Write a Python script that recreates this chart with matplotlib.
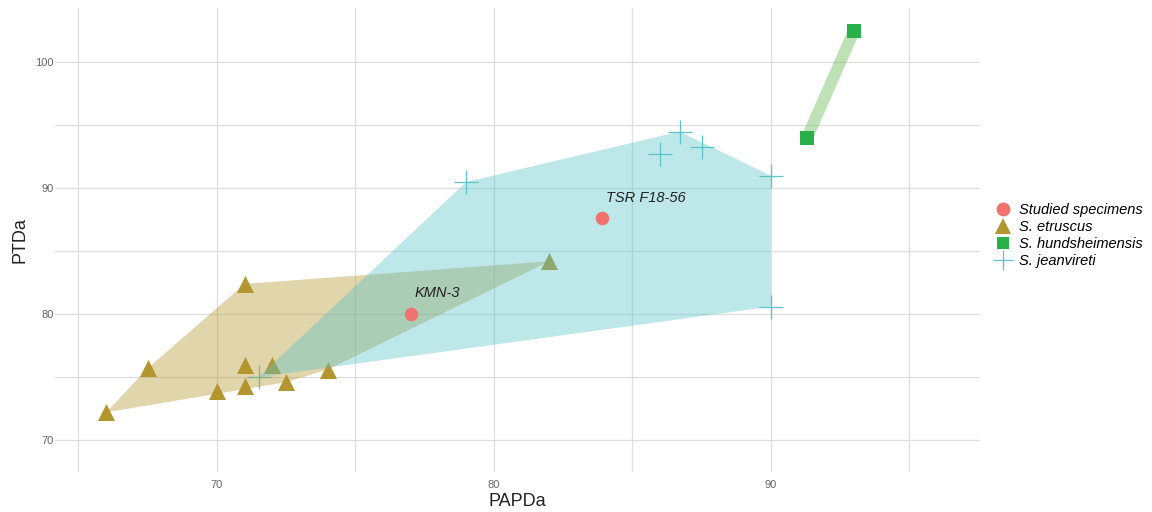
import numpy as np
import matplotlib
matplotlib.use('Agg')
from matplotlib import pyplot as plt

plt.rcParams['font.family'] = ['Liberation Sans', 'DejaVu Sans']

# measurements per group (PAPDa, PTDa)
studied_x = [77.0, 83.9]
studied_y = [80.0, 87.6]
studied_labels = ['KMN-3', 'TSR F18-56']

etruscus_x = [66.0, 67.5, 71.0, 70.0, 71.0, 71.0, 72.0, 72.5, 74.0, 82.0]
etruscus_y = [72.2, 75.7, 82.4, 73.9, 74.3, 76.0, 76.0, 74.6, 75.6, 84.2]

hundsheim_x = [91.3, 93.0]
hundsheim_y = [94.0, 102.5]

jeanvireti_x = [79.0, 86.7, 86.0, 87.5, 90.0, 90.0, 71.5]
jeanvireti_y = [90.5, 94.5, 92.7, 93.3, 91.0, 80.6, 75.0]

c_studied = '#F0736E'
c_etruscus = '#B3962F'
c_hundsheim = '#2AB04A'
c_jeanvireti = '#5CC3C8'


# convex hull (monotone chain) around the points of one group
def hull(xs, ys):
    pts = sorted(set(zip(xs, ys)))
    if len(pts) < 3:
        return pts

    def cross(o, a, b):
        return (a[0]-o[0])*(b[1]-o[1]) - (a[1]-o[1])*(b[0]-o[0])

    lower, upper = [], []
    for p in pts:
        while len(lower) >= 2 and cross(lower[-2], lower[-1], p) <= 0:
            lower.pop()
        lower.append(p)
    for p in reversed(pts):
        while len(upper) >= 2 and cross(upper[-2], upper[-1], p) <= 0:
            upper.pop()
        upper.append(p)
    return lower[:-1] + upper[:-1]


fig = plt.figure(figsize=(11.52, 5.12), dpi=100)
ax = fig.add_axes([0.0477, 0.078, 0.803, 0.906])

# points first, hull areas laid over them
ax.scatter(etruscus_x, etruscus_y, marker='^', s=150, color=c_etruscus, linewidths=0, zorder=2)
ax.scatter(jeanvireti_x, jeanvireti_y, marker='+', s=300, color=c_jeanvireti, linewidths=0.9, zorder=2)
ax.scatter(hundsheim_x, hundsheim_y, marker='s', s=110, color=c_hundsheim, linewidths=0, zorder=4)
ax.scatter(studied_x, studied_y, marker='o', s=95, color=c_studied, linewidths=0, zorder=4)

for xs, ys, col in [(etruscus_x, etruscus_y, c_etruscus), (jeanvireti_x, jeanvireti_y, c_jeanvireti)]:
    h = np.array(hull(xs, ys))
    ax.fill(h[:, 0], h[:, 1], color=col, alpha=0.4, linewidth=0, zorder=3)
ax.plot(hundsheim_x, hundsheim_y, color='#5DB84A', alpha=0.4, linewidth=8.5,
        solid_capstyle='butt', zorder=3)

for x, y, lab in zip(studied_x, studied_y, studied_labels):
    ax.annotate(lab, (x, y), xytext=(3, 12), textcoords='offset points',
                fontsize=10.5, fontstyle='italic', color='#222222', zorder=5)

ax.set_xlim(64.15, 97.55)
ax.set_ylim(67.46, 104.3)
ax.set_xticks([70, 80, 90])
ax.set_xticks([65, 75, 85, 95], minor=True)
ax.set_yticks([70, 80, 90, 100])
ax.set_yticks([75, 85, 95], minor=True)
ax.grid(True, which='both', color='#DEDEDE', linewidth=0.9, zorder=0)
ax.set_axisbelow(True)
ax.tick_params(which='both', length=0, labelsize=8, labelcolor='#666666', pad=1)
ax.tick_params(axis='x', pad=6)
for s in ax.spines.values():
    s.set_visible(False)

ax.set_xlabel('PAPDa', fontsize=13, color='#222222', labelpad=2)
ax.set_ylabel('PTDa', fontsize=13, color='#222222', labelpad=5)

# legend entries
handles = [
    plt.Line2D([], [], marker='o', linestyle='', color=c_studied, markersize=10, markeredgewidth=0),
    plt.Line2D([], [], marker='^', linestyle='', color=c_etruscus, markersize=11, markeredgewidth=0),
    plt.Line2D([], [], marker='s', linestyle='', color=c_hundsheim, markersize=9, markeredgewidth=0),
    plt.Line2D([], [], marker='+', linestyle='', color=c_jeanvireti, markersize=14, markeredgewidth=0.9),
]
names = ['Studied specimens', 'S. etruscus', 'S. hundsheimensis', 'S. jeanvireti']
leg = fig.legend(handles, names, loc='upper left', bbox_to_anchor=(0.858, 0.617),
                 frameon=False, prop={'style': 'italic', 'size': 10.5},
                 handlelength=1.0, handletextpad=0.6, labelspacing=0.2, borderpad=0)

fig.savefig('out.png', dpi=100)
